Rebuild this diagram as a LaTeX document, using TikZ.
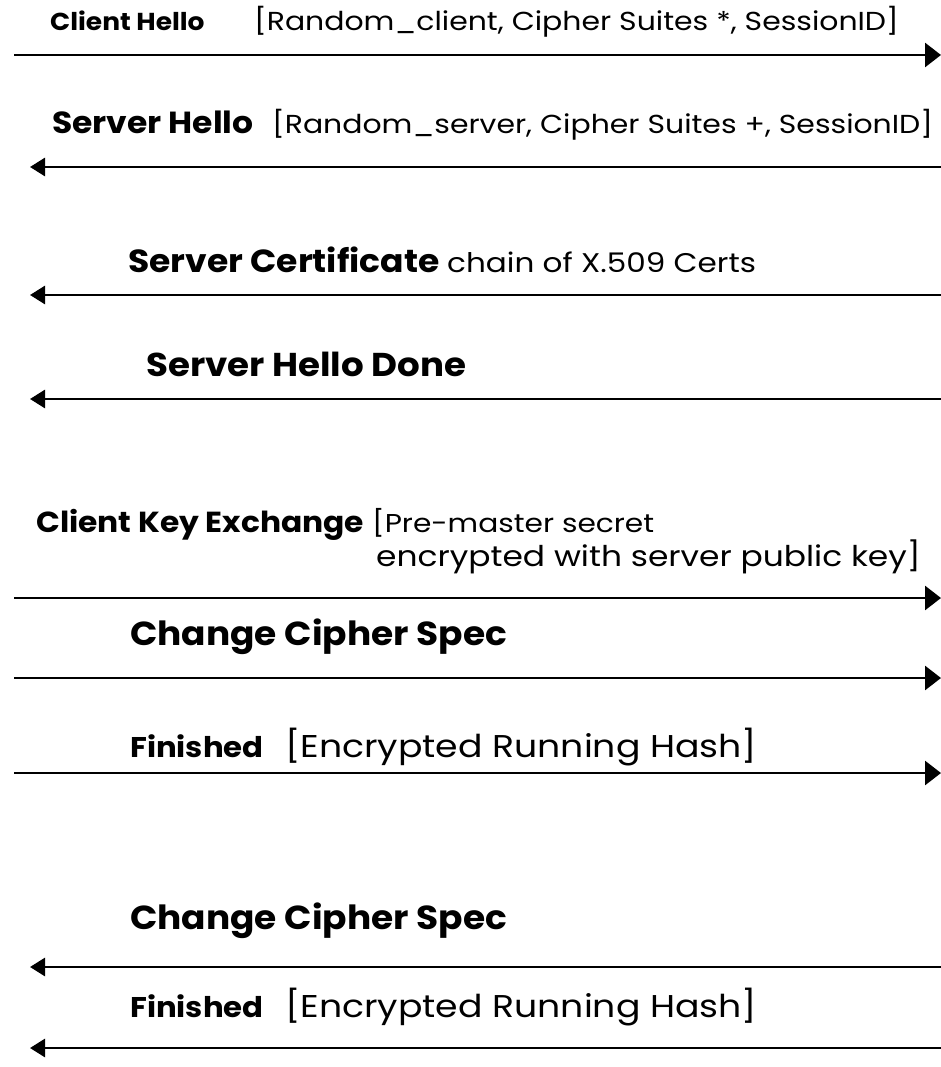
\documentclass[tikz,border=0pt]{standalone}
\usepackage{fontspec}
\setmainfont{Poppins}
\newfontfamily\lblfont[FakeStretch=1.08]{Poppins}
\newfontfamily\argfont[FakeStretch=1.15]{Poppins}
\usetikzlibrary{arrows.meta}

\begin{document}
\begin{tikzpicture}[x=1pt, y=-1pt, every node/.style={inner sep=0pt, anchor=base west}]
\tikzset{
  msg/.style={line width=2.8pt},
  tosrv/.style={msg, -{Triangle[length=16pt, width=24pt]}},
  tocli/.style={msg, -{Triangle[length=15pt, width=18pt]}},
  lbl/.style={font=\fontsize{#1}{#1}\lblfont\bfseries},
  arg/.style={font=\fontsize{#1}{#1}\argfont}
}
\useasboundingbox (0,0) rectangle (941,1067);

% client -> server
\node[lbl=24.5] (chello) at (50,31) {Client Hello};
\node[arg=26] (chelloarg) at (254,31) {[Random\_client, Cipher Suites *, SessionID]};
\coordinate (c1) at (14,55);
\coordinate (s1) at (941,55);
\draw[tosrv] (c1) -- (s1);

% server -> client
\node[lbl=30.5] (shello) at (52,134) {Server Hello};
\node[arg=26] (shelloarg) at (272,134) {[Random\_server, Cipher Suites +, SessionID]};
\coordinate (c2) at (30,167);
\coordinate (s2) at (941,167);
\draw[tocli] (s2) -- (c2);

\node[lbl=32] (scert) at (128,272) {Server Certificate};
\node[arg=27] (scertarg) at (447,272) {chain of X.509 Certs};
\coordinate (c3) at (30,295);
\coordinate (s3) at (941,295);
\draw[tocli] (s3) -- (c3);

\node[lbl=33] (sdone) at (146,376) {Server Hello Done};
\coordinate (c4) at (30,399);
\coordinate (s4) at (941,399);
\draw[tocli] (s4) -- (c4);

% key exchange
\node[lbl=29] (ckey) at (36,532) {Client Key Exchange};
\node[arg=25.8] (ckeyarg) at (372,532) {[Pre-master secret};
\node[arg=28.6] (ckeyarg2) at (376,566) {encrypted with server public key]};
\coordinate (c5) at (14,598);
\coordinate (s5) at (941,598);
\draw[tosrv] (c5) -- (s5);

\node[lbl=33.3] (cccs) at (130,645) {Change Cipher Spec};
\coordinate (c6) at (14,678);
\coordinate (s6) at (941,678);
\draw[tosrv] (c6) -- (s6);

\node[lbl=28.5] (cfin) at (130,757) {Finished};
\node[arg=31.5] (cfinarg) at (285,757) {[Encrypted Running Hash]};
\coordinate (c7) at (14,773);
\coordinate (s7) at (941,773);
\draw[tosrv] (c7) -- (s7);

% server finishes
\node[lbl=33.3] (sccs) at (130,929) {Change Cipher Spec};
\coordinate (c8) at (30,967);
\coordinate (s8) at (941,967);
\draw[tocli] (s8) -- (c8);

\node[lbl=28.5] (sfin) at (130,1017) {Finished};
\node[arg=31.5] (sfinarg) at (285,1017) {[Encrypted Running Hash]};
\coordinate (c9) at (30,1048);
\coordinate (s9) at (941,1048);
\draw[tocli] (s9) -- (c9);
\end{tikzpicture}
\end{document}
